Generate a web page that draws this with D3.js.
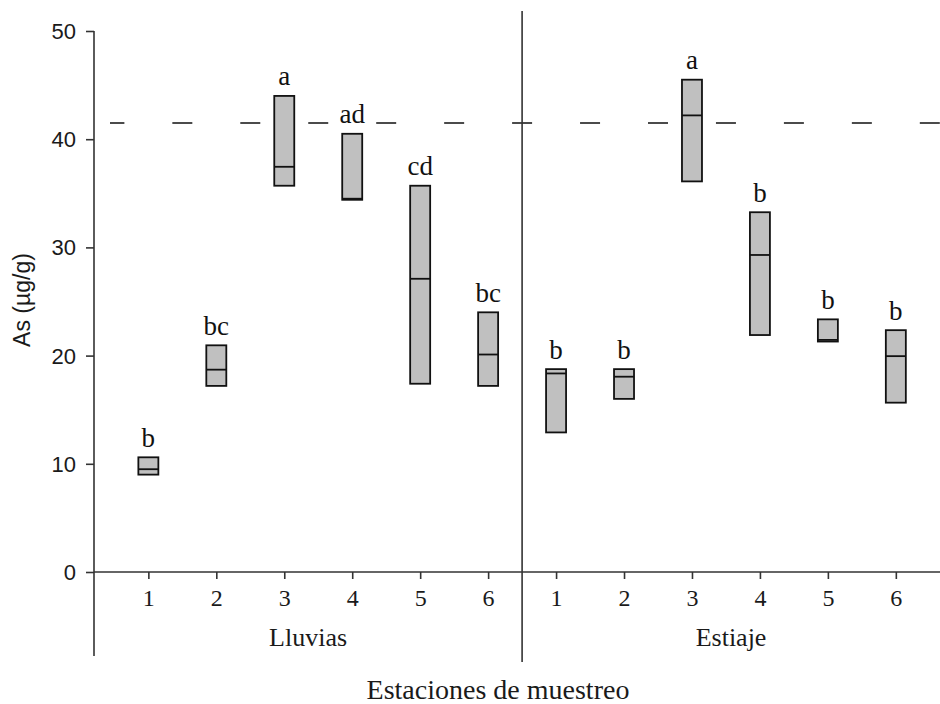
<!DOCTYPE html>
<html>
<head>
<meta charset="utf-8">
<script src="https://cdn.jsdelivr.net/npm/d3@7"></script>
<style>
  html, body { margin: 0; padding: 0; background: #fff; }
  svg { display: block; }
</style>
</head>
<body>
<svg id="chart" width="940" height="704"></svg>
<script>
// Sampling stations and seasons
const stations = ["1", "2", "3", "4", "5", "6"];
const seasons = ["Lluvias", "Estiaje"];

// Arsenic (µg/g) per station, rainy season: lower quartile, median, upper quartile
const lluviasQ1 = [9.0, 17.2, 35.7, 34.4, 17.4, 17.2];
const lluviasMed = [9.5, 18.7, 37.45, 34.5, 27.1, 20.1];
const lluviasQ3 = [10.6, 20.95, 44.0, 40.5, 35.7, 24.0];
const lluviasLetters = ["b", "bc", "a", "ad", "cd", "bc"];

// Dry season
const estiajeQ1 = [12.9, 16.0, 36.1, 21.9, 21.3, 15.65];
const estiajeMed = [18.35, 18.05, 42.2, 29.3, 21.45, 19.95];
const estiajeQ3 = [18.75, 18.75, 45.5, 33.25, 23.35, 22.35];
const estiajeLetters = ["b", "b", "a", "b", "b", "b"];

// Reference limit (dashed line)
const limitValue = 41.5;

// Y axis ticks
const yTicks = [0, 10, 20, 30, 40, 50];

const svg = d3.select("#chart");
const axisColor = "#333";

// Stations are placed on one continuous position scale: 0-5 rainy, 6-11 dry
const x = d3.scaleLinear().domain([-0.8, 11.65]).range([94, 940]);
const y = d3.scaleLinear().domain([0, 50]).range([572, 31]);
const step = x(1) - x(0);
const boxW = 20;

const rows = [];
stations.forEach((s, i) => rows.push({ pos: i, q1: lluviasQ1[i], med: lluviasMed[i], q3: lluviasQ3[i], letter: lluviasLetters[i], label: s }));
stations.forEach((s, i) => rows.push({ pos: 6 + i, q1: estiajeQ1[i], med: estiajeMed[i], q3: estiajeQ3[i], letter: estiajeLetters[i], label: s }));

// Dashed reference line, dashes sitting between stations
const dashLen = 20;
const dashStart = x(-0.5) - dashLen / 2;
const lineX1 = 110;
svg.append("line")
  .attr("x1", lineX1).attr("x2", x.range()[1])
  .attr("y1", y(limitValue)).attr("y2", y(limitValue))
  .attr("stroke", "#111").attr("stroke-width", 1.6)
  .attr("stroke-dasharray", `${dashLen} ${step - dashLen}`)
  .attr("stroke-dashoffset", lineX1 - dashStart);

// Y axis
const yAxis = d3.axisLeft(y).tickValues(yTicks).tickSize(8).tickPadding(10).tickSizeOuter(0);
const gy = svg.append("g").attr("transform", `translate(${x(-0.8)},0)`).call(yAxis);
gy.select(".domain").remove();
gy.selectAll(".tick line").attr("stroke", axisColor).attr("stroke-width", 1.6);
gy.selectAll(".tick text")
  .attr("font-family", "'Liberation Sans', Arial, sans-serif")
  .attr("font-size", 22).attr("fill", "#1a1a1a").attr("dy", "0.34em");
svg.append("line")
  .attr("x1", x(-0.8)).attr("x2", x(-0.8))
  .attr("y1", y(50)).attr("y2", 656)
  .attr("stroke", axisColor).attr("stroke-width", 1.6);

// X axis with station ticks
const xAxis = d3.axisBottom(x).tickValues(rows.map(d => d.pos))
  .tickFormat((d, i) => rows[i].label).tickSize(7).tickPadding(10).tickSizeOuter(0);
const gx = svg.append("g").attr("transform", `translate(0,${y(0)})`).call(xAxis);
gx.select(".domain").remove();
gx.selectAll(".tick line").attr("stroke", axisColor).attr("stroke-width", 1.6);
gx.selectAll(".tick text")
  .attr("font-family", "'Liberation Serif', 'Times New Roman', serif")
  .attr("font-size", 24).attr("fill", "#1a1a1a").attr("dy", "0.71em");
svg.append("line")
  .attr("x1", x(-0.8)).attr("x2", x.range()[1])
  .attr("y1", y(0)).attr("y2", y(0))
  .attr("stroke", axisColor).attr("stroke-width", 1.6);

// Season divider
svg.append("line")
  .attr("x1", x(5.5)).attr("x2", x(5.5))
  .attr("y1", 11).attr("y2", 662)
  .attr("stroke", axisColor).attr("stroke-width", 1.6);

// Boxes
const g = svg.append("g");
g.selectAll("rect.box").data(rows).join("rect")
  .attr("class", "box")
  .attr("x", d => x(d.pos) - boxW / 2)
  .attr("width", boxW)
  .attr("y", d => y(d.q3))
  .attr("height", d => y(d.q1) - y(d.q3))
  .attr("fill", "#c0c0c0").attr("stroke", "#111").attr("stroke-width", 1.8);
g.selectAll("line.med").data(rows).join("line")
  .attr("class", "med")
  .attr("x1", d => x(d.pos) - boxW / 2).attr("x2", d => x(d.pos) + boxW / 2)
  .attr("y1", d => y(d.med)).attr("y2", d => y(d.med))
  .attr("stroke", "#111").attr("stroke-width", 1.8);

// Significance letters
g.selectAll("text.letter").data(rows).join("text")
  .attr("class", "letter")
  .attr("x", d => x(d.pos)).attr("y", d => y(d.q3) - 10.5)
  .attr("text-anchor", "middle")
  .attr("font-family", "'Liberation Serif', 'Times New Roman', serif")
  .attr("font-size", 27).attr("fill", "#111")
  .text(d => d.letter);

// Season labels
const seasonCenters = [(x(-0.8) + x(5.5)) / 2, (x(5.5) + x.range()[1]) / 2];
svg.selectAll("text.season").data(seasons).join("text")
  .attr("class", "season")
  .attr("x", (d, i) => seasonCenters[i]).attr("y", 646)
  .attr("text-anchor", "middle")
  .attr("font-family", "'Liberation Serif', 'Times New Roman', serif")
  .attr("font-size", 26).attr("fill", "#1a1a1a")
  .text(d => d);

// Axis titles
svg.append("text")
  .attr("x", 498).attr("y", 699)
  .attr("text-anchor", "middle")
  .attr("font-family", "'Liberation Serif', 'Times New Roman', serif")
  .attr("font-size", 28).attr("fill", "#1a1a1a")
  .text("Estaciones de muestreo");

svg.append("text")
  .attr("transform", "translate(30,300) rotate(-90)")
  .attr("text-anchor", "middle")
  .attr("font-family", "'Liberation Sans', Arial, sans-serif")
  .attr("font-size", 23).attr("fill", "#1a1a1a")
  .text("As (µg/g)");
</script>
</body>
</html>
